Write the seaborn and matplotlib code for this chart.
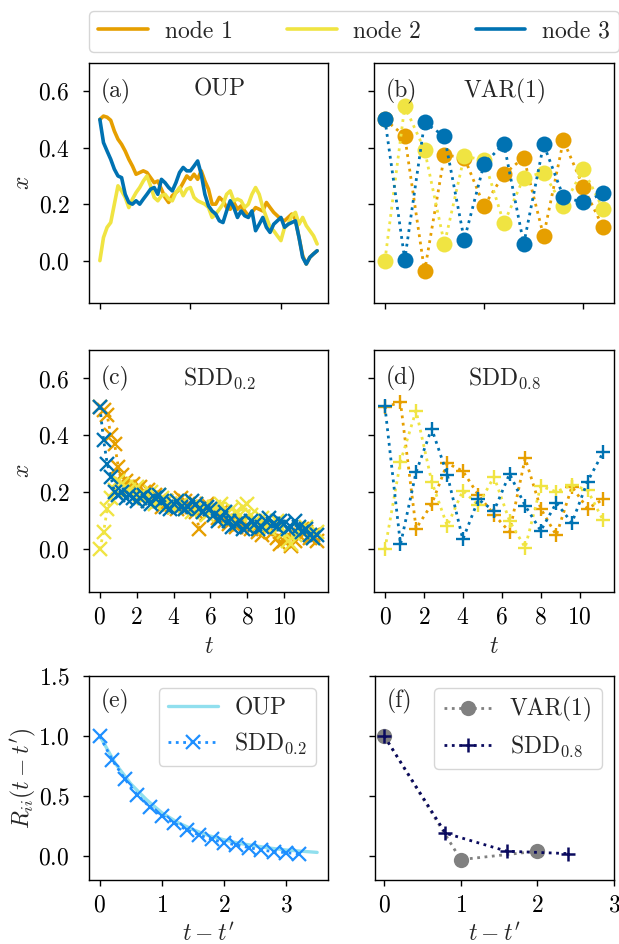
import numpy as np
import pandas as pd
import matplotlib
matplotlib.use("Agg")
import matplotlib.pyplot as plt
import seaborn as sns
from matplotlib.lines import Line2D

# ---------------- data ----------------
node_names = ["node 1", "node 2", "node 3"]
node_colors = ["#E69F00", "#F0E442", "#0072B2"]

# (a) OUP trajectories, sampled every 0.2 time units (t = 0 ... 12)
oup_t = np.round(np.arange(61) * 0.2, 1)
oup_node1 = [0.50, 0.512, 0.508, 0.497, 0.459, 0.43, 0.412, 0.388, 0.359, 0.335,
             0.306, 0.312, 0.318, 0.312, 0.294, 0.276, 0.282, 0.253, 0.224, 0.206,
             0.23, 0.241, 0.253, 0.276, 0.30, 0.288, 0.306, 0.288, 0.318, 0.282,
             0.253, 0.20, 0.20, 0.224, 0.212, 0.188, 0.182, 0.206, 0.182, 0.194,
             0.176, 0.159, 0.171, 0.188, 0.182, 0.176, 0.206, 0.188, 0.171, 0.159,
             0.147, 0.141, 0.153, 0.165, 0.147, 0.082, 0.018, -0.012, 0.012, 0.024,
             0.035]
oup_node2 = [0.0, 0.082, 0.118, 0.135, 0.20, 0.265, 0.247, 0.224, 0.188, 0.218,
             0.241, 0.259, 0.282, 0.30, 0.265, 0.224, 0.212, 0.23, 0.235, 0.218,
             0.212, 0.241, 0.259, 0.23, 0.253, 0.259, 0.224, 0.212, 0.206, 0.20,
             0.188, 0.153, 0.165, 0.182, 0.20, 0.235, 0.247, 0.212, 0.218, 0.212,
             0.188, 0.20, 0.235, 0.259, 0.235, 0.188, 0.153, 0.118, 0.106, 0.088,
             0.071, 0.118, 0.129, 0.159, 0.171, 0.129, 0.153, 0.124, 0.106, 0.088,
             0.059]
oup_node3 = [0.50, 0.418, 0.388, 0.359, 0.324, 0.30, 0.294, 0.235, 0.206, 0.20,
             0.212, 0.20, 0.218, 0.235, 0.253, 0.259, 0.235, 0.288, 0.276, 0.259,
             0.247, 0.276, 0.312, 0.33, 0.318, 0.318, 0.335, 0.353, 0.306, 0.235,
             0.194, 0.176, 0.165, 0.141, 0.135, 0.176, 0.212, 0.188, 0.153, 0.176,
             0.159, 0.153, 0.176, 0.106, 0.129, 0.153, 0.118, 0.10, 0.129, 0.141,
             0.153, 0.118, 0.129, 0.135, 0.141, 0.082, 0.012, -0.012, 0.012, 0.024,
             0.035]

# (b) VAR(1), steps 0 ... 11
var_t = list(range(12))
var_node1 = [0.50, 0.441, -0.038, 0.374, 0.365, 0.194, 0.306, 0.365, 0.088, 0.426, 0.262, 0.118]
var_node2 = [0.0, 0.547, 0.392, 0.059, 0.37, 0.356, 0.132, 0.294, 0.312, 0.192, 0.324, 0.182]
var_node3 = [0.50, 0.004, 0.49, 0.44, 0.074, 0.343, 0.414, 0.059, 0.412, 0.226, 0.206, 0.238]

# (c) SDD with dt = 0.2 (t = 0 ... 11.8)
sdd02_t = np.round(np.arange(60) * 0.2, 1)
sdd02_node1 = [0.50, 0.49, 0.47, 0.40, 0.37, 0.29, 0.26, 0.24, 0.22, 0.23,
               0.21, 0.22, 0.20, 0.21, 0.18, 0.19, 0.17, 0.15, 0.17, 0.16,
               0.15, 0.14, 0.18, 0.17, 0.16, 0.15, 0.13, 0.07, 0.15, 0.16,
               0.14, 0.12, 0.11, 0.13, 0.10, 0.09, 0.11, 0.08, 0.09, 0.10,
               0.08, 0.07, 0.09, 0.06, 0.05, 0.07, 0.08, 0.06, 0.04, 0.02,
               0.03, 0.05, 0.01, 0.03, 0.05, 0.07, 0.06, 0.04, 0.05, 0.03]
sdd02_node2 = [0.00, 0.06, 0.14, 0.18, 0.21, 0.24, 0.23, 0.22, 0.21, 0.20,
               0.22, 0.19, 0.18, 0.17, 0.20, 0.16, 0.19, 0.18, 0.17, 0.16,
               0.15, 0.17, 0.16, 0.14, 0.15, 0.13, 0.16, 0.14, 0.15, 0.12,
               0.13, 0.15, 0.14, 0.16, 0.12, 0.11, 0.14, 0.13, 0.12, 0.15,
               0.16, 0.12, 0.10, 0.09, 0.11, 0.08, 0.07, 0.09, 0.10, 0.08,
               0.06, 0.03, 0.02, 0.05, 0.07, 0.06, 0.08, 0.05, 0.04, 0.06]
sdd02_node3 = [0.50, 0.385, 0.30, 0.255, 0.20, 0.19, 0.20, 0.18, 0.19, 0.18,
               0.17, 0.18, 0.19, 0.17, 0.16, 0.18, 0.19, 0.17, 0.15, 0.14,
               0.16, 0.17, 0.15, 0.14, 0.15, 0.17, 0.16, 0.14, 0.13, 0.15,
               0.14, 0.12, 0.10, 0.11, 0.13, 0.10, 0.08, 0.09, 0.10, 0.07,
               0.08, 0.10, 0.09, 0.07, 0.08, 0.10, 0.11, 0.09, 0.08, 0.10,
               0.09, 0.07, 0.08, 0.10, 0.08, 0.06, 0.07, 0.05, 0.04, 0.05]

# (d) SDD with dt = 0.8 (t = 0 ... 11.2)
sdd08_t = np.round(np.arange(15) * 0.8, 1)
sdd08_node1 = [0.50, 0.516, 0.073, 0.158, 0.302, 0.275, 0.19, 0.122, 0.061, 0.32,
               0.143, 0.049, 0.22, 0.143, 0.175]
sdd08_node2 = [0.0, 0.308, 0.487, 0.238, 0.082, 0.206, 0.155, 0.255, 0.099, 0.006,
               0.222, 0.202, 0.226, 0.208, 0.102]
sdd08_node3 = [0.502, 0.017, 0.271, 0.424, 0.262, 0.035, 0.175, 0.135, 0.265, 0.153,
               0.065, 0.163, 0.093, 0.238, 0.34]

# (e) autocorrelation: OUP (continuous) and SDD_0.2
acf_oup_lag = [0.0, 0.25, 0.5, 0.75, 1.0, 1.25, 1.5, 1.75, 2.0, 2.25, 2.5, 2.75, 3.0, 3.25, 3.5]
acf_oup = [1.0, 0.77, 0.60, 0.47, 0.36, 0.28, 0.22, 0.17, 0.135, 0.105, 0.085, 0.065, 0.05, 0.04, 0.03]
acf_sdd02_lag = np.round(np.arange(17) * 0.2, 1)
acf_sdd02 = [0.998, 0.80, 0.643, 0.51, 0.41, 0.337, 0.273, 0.217, 0.175, 0.139,
             0.111, 0.092, 0.07, 0.05, 0.036, 0.028, 0.017]

# (f) autocorrelation: VAR(1) and SDD_0.8
acf_var_lag = [0, 1, 2]
acf_var = [1.0, -0.03, 0.04]
acf_sdd08_lag = [0.0, 0.8, 1.6, 2.4]
acf_sdd08 = [1.0, 0.19, 0.04, 0.02]

panel_titles = ["OUP", "VAR(1)", r"SDD$_{0.2}$", r"SDD$_{0.8}$"]
panel_letters = ["(a)", "(b)", "(c)", "(d)", "(e)", "(f)"]

# ---------------- style ----------------
FS = 17
sns.set_theme(style="ticks")
plt.rcParams.update({
    "font.family": ["serif"],
    "font.serif": ["cmr10", "DejaVu Serif"],
    "mathtext.fontset": "cm",
    "axes.formatter.use_mathtext": True,
    "font.size": FS,
    "axes.labelsize": FS,
    "xtick.labelsize": FS,
    "ytick.labelsize": FS,
    "legend.fontsize": FS,
    "axes.linewidth": 1.0,
    "axes.edgecolor": "black",
    "xtick.major.size": 4.5,
    "ytick.major.size": 4.5,
    "xtick.major.width": 1.0,
    "ytick.major.width": 1.0,
    "xtick.major.pad": 6.0,
    "ytick.major.pad": 9.5,
    "xtick.color": "black",
    "ytick.color": "black",
})

W, H = 619, 944
fig = plt.figure(figsize=(W / 100, H / 100), dpi=100)

def rect(x0, y0, x1, y1):
    return [x0 / W, 1 - y1 / H, (x1 - x0) / W, (y1 - y0) / H]

ax_a = fig.add_axes(rect(89, 63, 328, 303))
ax_b = fig.add_axes(rect(374, 63, 614, 303))
ax_c = fig.add_axes(rect(89, 350, 328, 592))
ax_d = fig.add_axes(rect(374, 350, 614, 592))
ax_e = fig.add_axes(rect(89, 676, 328, 880))
ax_f = fig.add_axes(rect(375, 676, 614, 880))

def df_of(t, *ys):
    return [pd.DataFrame({"t": t, "x": y}) for y in ys]

# (a)
for d, c in zip(df_of(oup_t, oup_node1, oup_node2, oup_node3), node_colors):
    sns.lineplot(data=d, x="t", y="x", color=c, lw=2.6, ax=ax_a)

# (b)
for d, c in zip(df_of(var_t, var_node1, var_node2, var_node3), node_colors):
    sns.lineplot(data=d, x="t", y="x", color=c, lw=2.0, ls=":", marker="o",
                 markersize=11.5, markeredgewidth=0, markeredgecolor=c, ax=ax_b)

# (c)
for d, c in zip(df_of(sdd02_t, sdd02_node1, sdd02_node2, sdd02_node3), node_colors):
    sns.lineplot(data=d, x="t", y="x", color=c, lw=2.0, ls=":", marker="x",
                 markersize=9.5, markeredgewidth=1.7, markeredgecolor=c, ax=ax_c)

# (d)
for d, c in zip(df_of(sdd08_t, sdd08_node1, sdd08_node2, sdd08_node3), node_colors):
    sns.lineplot(data=d, x="t", y="x", color=c, lw=2.0, ls=":", marker="+",
                 markersize=9.5, markeredgewidth=1.7, markeredgecolor=c, ax=ax_d)

# (e)
c_oup, c_sdd02 = "#90DFEE", "#1E8FFF"
sns.lineplot(x=acf_oup_lag, y=acf_oup, color=c_oup, lw=2.4, ax=ax_e, label="OUP")
sns.lineplot(x=acf_sdd02_lag, y=acf_sdd02, color=c_sdd02, lw=2.0, ls=":", marker="x",
             markersize=9.5, markeredgewidth=1.6, markeredgecolor=c_sdd02, ax=ax_e,
             label=r"SDD$_{0.2}$")

# (f)
c_var, c_sdd08 = "#808080", "#0A0A5E"
sns.lineplot(x=acf_var_lag, y=acf_var, color=c_var, lw=2.0, ls=":", marker="o",
             markersize=11, markeredgewidth=0, markeredgecolor=c_var, ax=ax_f, label="VAR(1)")
sns.lineplot(x=acf_sdd08_lag, y=acf_sdd08, color=c_sdd08, lw=2.0, ls=":", marker="+",
             markersize=9.5, markeredgewidth=1.8, markeredgecolor=c_sdd08, ax=ax_f,
             label=r"SDD$_{0.8}$")

# axes limits / ticks
for ax in (ax_a, ax_b, ax_c, ax_d):
    ax.set_ylim(-0.15, 0.7)
    ax.set_yticks([0.0, 0.2, 0.4, 0.6])
ax_a.set_xlim(-0.6, 12.6)
ax_c.set_xlim(-0.59, 12.39)
ax_b.set_xlim(-0.55, 11.55)
ax_d.set_xlim(-0.56, 11.76)
ax_a.set_xticks([0, 5, 10])
ax_b.set_xticks([0, 5, 10])
ax_c.set_xticks([0, 2, 4, 6, 8, 10])
ax_d.set_xticks([0, 2, 4, 6, 8, 10])
for ax in (ax_a, ax_b):
    ax.tick_params(labelbottom=False)
for ax in (ax_b, ax_d, ax_f):
    ax.tick_params(labelleft=False)

for ax in (ax_e, ax_f):
    ax.set_ylim(-0.2, 1.5)
    ax.set_yticks([0.0, 0.5, 1.0, 1.5])
ax_e.set_xlim(-0.175, 3.675)
ax_f.set_xlim(-0.12, 3.0)
ax_e.set_xticks([0, 1, 2, 3])
ax_f.set_xticks([0, 1, 2, 3])

for ax in (ax_a, ax_b, ax_c, ax_d, ax_e, ax_f):
    ax.set_xlabel("")
    ax.set_ylabel("")
    for s in ax.spines.values():
        s.set_visible(True)
        s.set_color("black")
        s.set_linewidth(1.0)

ax_a.set_ylabel(r"$x$")
ax_c.set_ylabel(r"$x$")
ax_a.yaxis.set_label_coords(-0.23, 0.5)
ax_c.yaxis.set_label_coords(-0.23, 0.5)
ax_e.set_ylabel(r"$R_{ii}(t-t')$")
ax_e.yaxis.set_label_coords(-0.212, 0.5)
ax_c.set_xlabel(r"$t$", labelpad=5)
ax_d.set_xlabel(r"$t$", labelpad=5)
ax_e.set_xlabel(r"$t-t'$", labelpad=4)
ax_f.set_xlabel(r"$t-t'$", labelpad=4)

# panel letters and titles
for ax, letter in zip((ax_a, ax_b, ax_c, ax_d, ax_e, ax_f), panel_letters):
    ax.text(0.05, 0.935, letter, transform=ax.transAxes, ha="left", va="top")
for ax, title in zip((ax_a, ax_b, ax_c, ax_d), panel_titles):
    ax.text(0.545, 0.935, title, transform=ax.transAxes, ha="center", va="top")

# legends
for ax in (ax_e, ax_f):
    ax.legend(loc="upper right", handlelength=2.1, handletextpad=0.7,
              borderaxespad=0.5, framealpha=0.8, edgecolor="#cccccc")

handles = [Line2D([], [], color=c, lw=2.6) for c in node_colors]
fig.legend(handles, node_names, loc="lower left", ncol=3, mode="expand",
           bbox_to_anchor=(89 / W, 1 - 52 / H, (619 - 89) / W, 42 / H),
           handlelength=2.1, handletextpad=0.7, borderaxespad=0.0,
           framealpha=0.8, edgecolor="#cccccc")

fig.savefig("out.png", dpi=100)
